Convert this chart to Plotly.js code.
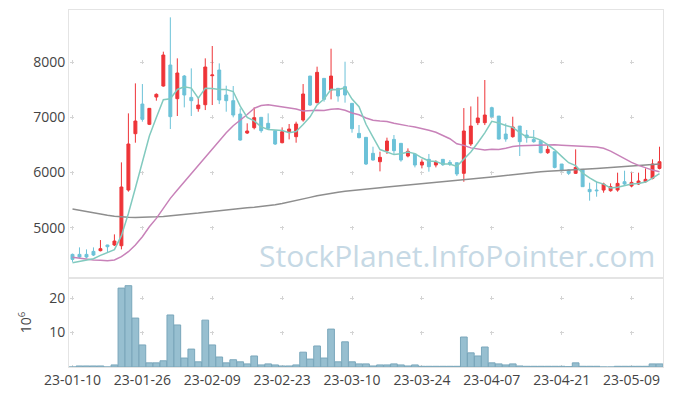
<!DOCTYPE html>
<html><head><meta charset="utf-8">
<script src="https://cdn.plot.ly/plotly-3.0.1.min.js"></script>
<style>html,body{margin:0;padding:0;background:#fff;}#chart{width:673px;height:396px;}</style>
</head><body><div id="chart"></div>
<script>
const dates = ['23-01-10','23-01-11','23-01-12','23-01-13','23-01-16','23-01-17','23-01-18','23-01-19','23-01-20','23-01-25',
'23-01-26','23-01-27','23-01-30','23-01-31','23-02-01','23-02-02','23-02-03','23-02-06','23-02-07','23-02-08',
'23-02-09','23-02-10','23-02-13','23-02-14','23-02-15','23-02-16','23-02-17','23-02-20','23-02-21','23-02-22',
'23-02-23','23-02-24','23-02-27','23-02-28','23-03-02','23-03-03','23-03-06','23-03-07','23-03-08','23-03-09',
'23-03-10','23-03-13','23-03-14','23-03-15','23-03-16','23-03-17','23-03-20','23-03-21','23-03-22','23-03-23',
'23-03-24','23-03-27','23-03-28','23-03-29','23-03-30','23-03-31','23-04-03','23-04-04','23-04-05','23-04-06',
'23-04-07','23-04-10','23-04-11','23-04-12','23-04-13','23-04-14','23-04-17','23-04-18','23-04-19','23-04-20',
'23-04-21','23-04-24','23-04-25','23-04-26','23-04-27','23-04-28','23-05-02','23-05-03','23-05-04','23-05-08',
'23-05-09','23-05-10','23-05-11','23-05-12','23-05-15'];
const open = [4516,4516,4516,4570,4583,4686,4686,4673,5683,6705,
7243,6875,7370,7570,7951,7340,7751,7364,7159,7231,
7757,7860,7407,7304,7062,6717,6814,7002,6893,6760,
6542,6741,6651,6953,7751,7268,7709,7497,7528,7558,
7256,6711,6639,6349,6197,6397,6602,6530,6300,6337,
6137,6240,6137,6240,6185,6179,5986,6518,6905,6905,
7177,7025,6699,6651,6844,6681,6602,6578,6361,6379,
6155,6046,5986,6058,5695,5683,5683,5671,5683,5834,
5756,5792,5834,5895,6076];
const high = [4530,4643,4607,4643,4776,4690,4879,6185,7074,7618,
7606,7170,7437,8193,8816,8072,7770,7890,7358,8072,
8296,7981,7576,7570,7165,6893,7183,7002,7074,6760,
6820,6881,6923,7606,7751,7921,7709,8247,7528,8011,
7256,6863,6639,6469,6379,6633,6681,6530,6439,6337,
6240,6337,6222,6240,6228,6179,7170,7200,7376,7679,
7195,7025,6892,7013,6844,6772,6772,6578,6500,6379,
6155,6058,6421,6058,5816,5834,5816,5804,5998,6034,
5998,5998,6076,6240,6469];
const low = [4380,4444,4444,4486,4570,4552,4667,4607,5653,6542,
6923,6862,7304,7558,6790,7026,7183,7026,7104,7134,
7225,7243,7104,7002,6578,6699,6784,6723,6772,6500,
6530,6602,6542,6923,7207,7256,7286,7328,7286,7268,
6723,6621,6137,6216,6022,6337,6337,6197,6276,6094,
6076,6016,6094,6119,6119,5937,5834,6481,6862,6862,
7000,6600,6560,6632,6300,6542,6542,6348,6337,6076,
6030,5955,5974,5744,5490,5562,5635,5653,5653,5774,
5732,5774,5816,5877,6058];
const close = [4425,4468,4468,4504,4619,4655,4758,5738,6518,6935,
6965,7165,7419,8132,7014,7806,7407,7304,7225,7915,
7770,7316,7304,7044,6590,6754,6996,6760,6802,6518,
6741,6790,6881,7425,7225,7818,7328,7751,7389,7407,
6796,6633,6155,6228,6276,6572,6397,6228,6385,6137,
6191,6107,6191,6143,6149,5974,6754,6844,6990,7044,
7013,6608,6608,6826,6560,6632,6560,6360,6421,6094,
6034,5986,6094,5744,5653,5671,5792,5744,5804,5792,
5822,5847,5877,6155,6197];
// volume in millions of shares
const volume = [0,0.3,0.3,0.3,0.3,0,0.6,22.9,23.6,14.2,
6.4,1.2,1.2,1.8,15.1,12.2,2.6,5.2,1.5,13.6,
6.4,2.9,1.2,2.1,1.5,0.9,3.2,0.6,0.9,0.6,
0.3,0.3,0.6,4.3,2.3,6.1,2.6,11.0,1.5,7.3,
1.5,0.9,0.9,0.3,0.6,0.6,0.9,0.6,0.3,0.6,
0.2,0.2,0.2,0.2,0.2,0.2,8.7,4.1,3.2,5.8,
1.2,0.9,0.6,0.9,0.3,0.2,0.2,0.2,0.2,0.2,
0.2,0.1,1.2,0.2,0.2,0.2,0,0,0.2,0.2,
0.2,0.2,0.2,0.9,0.9];
const ma5 = [4365,4389,4413,4438,4497,4543,4601,4855,5258,5721,
6183,6664,7000,7323,7339,7507,7556,7533,7351,7531,
7524,7506,7506,7470,7205,7002,6938,6829,6780,6766,
6763,6722,6746,6871,7012,7228,7335,7509,7502,7539,
7334,7195,6876,6644,6418,6373,6326,6340,6372,6344,
6268,6210,6202,6154,6156,6113,6242,6373,6542,6721,
6929,6900,6853,6820,6723,6647,6637,6588,6507,6413,
6294,6179,6126,5990,5902,5830,5791,5721,5733,5761,
5791,5802,5828,5899,5980];
const ma20 = [4462,4444,4426,4414,4408,4401,4413,4474,4565,4686,
4837,5018,5169,5351,5532,5683,5834,5986,6137,6272,
6439,6582,6723,6850,6949,7054,7166,7217,7231,7210,
7199,7180,7153,7118,7129,7129,7125,7148,7156,7130,
7082,7048,6990,6949,6934,6925,6895,6868,6847,6828,
6801,6766,6732,6668,6614,6522,6493,6448,6428,6410,
6421,6419,6442,6472,6486,6489,6497,6504,6506,6503,
6496,6490,6488,6485,6478,6465,6440,6390,6320,6250,
6185,6130,6085,6045,6014];
const ma120 = [5339,5314,5290,5266,5245,5225,5208,5196,5189,5186,
5187,5191,5197,5205,5215,5226,5238,5251,5265,5280,
5296,5312,5327,5340,5352,5363,5373,5384,5398,5415,
5437,5462,5490,5520,5550,5578,5603,5625,5645,5662,
5677,5690,5701,5712,5724,5736,5748,5760,5772,5784,
5795,5806,5817,5828,5839,5850,5861,5874,5889,5905,
5920,5935,5950,5964,5978,5991,6004,6015,6025,6034,
6043,6051,6058,6064,6070,6076,6083,6092,6102,6112,
6122,6132,6141,6149,6156];
const xTicks = ['23-01-10','23-01-26','23-02-09','23-02-23','23-03-10','23-03-24','23-04-07','23-04-21','23-05-09'];
const priceTicks = [5000,6000,7000,8000];
const volumeTicks = [10,20];

// ---- layout geometry / style ----
const W = 673, H = 396, M = {l:69, r:10, t:10, b:29};
const priceDomain = [0.25, 1], volDomain = [0, 0.25];
const priceRange = [4092, 8949], volRange = [0, 25.9], xRange = [-0.5, dates.length - 0.5];
const gw = W - M.l - M.r, gh = H - M.t - M.b;
const ARM = 2;
function crossDash(first, period) {
  let f = first % period; if (f < 0) f += period;
  if (f < ARM) f += period;
  const a = f - ARM, d = 2 * ARM;
  if (a + d <= period) return '0px,' + a.toFixed(2) + 'px,' + d + 'px,' + (period - a - d).toFixed(2) + 'px';
  const x = f + ARM - period;
  return x.toFixed(2) + 'px,' + (period - d).toFixed(2) + 'px,' + (d - x).toFixed(2) + 'px';
}
const pLen = gh * (priceDomain[1] - priceDomain[0]), pPpu = pLen / (priceRange[1] - priceRange[0]);
const vLen = gh * (volDomain[1] - volDomain[0]), vPpu = vLen / (volRange[1] - volRange[0]);
const xPpu = gw / (xRange[1] - xRange[0]);
const pMax = Math.max(...priceTicks), vMax = Math.max(...volumeTicks);
const dashXPrice = crossDash((priceRange[1] - pMax) * pPpu, (priceTicks[1] - priceTicks[0]) * pPpu);
const dashXVol = crossDash((volRange[1] - vMax) * vPpu, (volumeTicks[1] - volumeTicks[0]) * vPpu);
const dashY = crossDash((0 - xRange[0]) * xPpu, 10 * xPpu);

const gridColor = '#d4d4d4', frameColor = '#e4e4e4';
const tickFont = {family: 'Open Sans, sans-serif', size: 14, color: '#444'};
const RED = '#ee3438', BLUE = '#6cc2d8';

const traces = [
  {type: 'candlestick', x: dates, open: open, high: high, low: low, close: close,
   xaxis: 'x2', yaxis: 'y', whiskerwidth: 0,
   increasing: {line: {color: RED, width: 1}, fillcolor: RED},
   decreasing: {line: {color: BLUE, width: 1}, fillcolor: BLUE},
   hoverinfo: 'skip', showlegend: false},
  {type: 'scatter', mode: 'lines', x: dates, y: ma120, xaxis: 'x2', yaxis: 'y',
   line: {color: '#8e8e8e', width: 1.5}, hoverinfo: 'skip', showlegend: false},
  {type: 'scatter', mode: 'lines', x: dates, y: ma20, xaxis: 'x2', yaxis: 'y',
   line: {color: '#c882b9', width: 1.5}, hoverinfo: 'skip', showlegend: false},
  {type: 'scatter', mode: 'lines', x: dates, y: ma5, xaxis: 'x2', yaxis: 'y',
   line: {color: '#82cabf', width: 1.5}, hoverinfo: 'skip', showlegend: false},
  {type: 'bar', x: dates, y: volume, xaxis: 'x', yaxis: 'y2',
   marker: {color: '#97bfd0', line: {color: '#7aa7bb', width: 1}},
   hoverinfo: 'skip', showlegend: false}
];

const axisCommon = {showline: true, mirror: true, linecolor: frameColor, linewidth: 1,
  zeroline: false, ticks: '', tickfont: tickFont, gridcolor: gridColor, gridwidth: 1};

const layout = {
  width: W, height: H, margin: M, paper_bgcolor: '#fff', plot_bgcolor: '#fff',
  showlegend: false, bargap: 0.04, boxgap: 0.4,
  font: {family: 'Open Sans, sans-serif', color: '#444'},
  xaxis: Object.assign({}, axisCommon, {type: 'category', anchor: 'y2', range: xRange,
    tickvals: xTicks, griddash: dashXVol, rangeslider: {visible: false}}),
  xaxis2: Object.assign({}, axisCommon, {type: 'category', anchor: 'y', matches: 'x', range: xRange,
    tickvals: xTicks, showticklabels: false, griddash: dashXPrice, rangeslider: {visible: false}}),
  yaxis: Object.assign({}, axisCommon, {domain: priceDomain, anchor: 'x2', range: priceRange,
    tickvals: priceTicks, tickformat: 'd', griddash: dashY}),
  yaxis2: Object.assign({}, axisCommon, {domain: volDomain, anchor: 'x', range: volRange,
    tickvals: volumeTicks, griddash: dashY,
    title: {text: '10<sup>6</sup>', font: {family: 'Open Sans, sans-serif', size: 14, color: '#444'}}}),
  annotations: [{xref: 'paper', yref: 'paper', x: 0.653, y: 0.311, xanchor: 'center', yanchor: 'middle',
    showarrow: false, text: 'StockPlanet.InfoPointer.com',
    font: {family: 'Open Sans, sans-serif', size: 30, color: 'rgb(198,217,229)'}}]
};
Plotly.newPlot('chart', traces, layout, {staticPlot: true, displayModeBar: false});
</script></body></html>
